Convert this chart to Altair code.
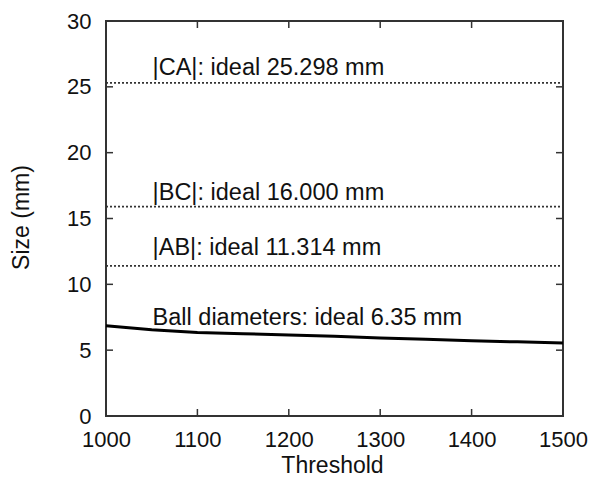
import altair as alt
import pandas as pd

# ---- data ----
threshold = [1000, 1050, 1100, 1150, 1200, 1250, 1300, 1350, 1400, 1450, 1500]
ball_diam = [6.85, 6.55, 6.35, 6.25, 6.15, 6.05, 5.92, 5.82, 5.72, 5.63, 5.55]

ref_names = ["|CA|", "|BC|", "|AB|"]
ref_values = [25.3, 15.9, 11.4]

label_texts = ["|CA|: ideal 25.298 mm", "|BC|: ideal 16.000 mm",
               "|AB|: ideal 11.314 mm", "Ball diameters: ideal 6.35 mm"]
label_x = [1051, 1051, 1051, 1051]
label_y = [25.9, 16.4, 12.2, 6.9]

x_ticks = [1000, 1100, 1200, 1300, 1400, 1500]
y_ticks = [0, 5, 10, 15, 20, 25, 30]

W, H = 457, 395
FONT = "Liberation Sans"

# ---- tables ----
ball_df = pd.DataFrame({"x": threshold, "y": ball_diam})
ref_df = pd.DataFrame([
    {"name": n, "x": xx, "y": v}
    for n, v in zip(ref_names, ref_values)
    for xx in (threshold[0], threshold[-1])
])
lab_df = pd.DataFrame({"x": label_x, "y": label_y, "text": label_texts})
xt_df = pd.DataFrame({"x": x_ticks})
yt_df = pd.DataFrame({"y": y_ticks})

X = alt.X("x:Q", scale=alt.Scale(domain=[1000, 1500], nice=False, zero=False),
          axis=alt.Axis(title="Threshold", values=x_ticks, format="d",
                        ticks=False, tickSize=0, domain=False, grid=False,
                        labelFlush=False, labelOverlap=False,
                        labelFont=FONT, labelFontSize=22, labelColor="#111",
                        labelPadding=13, labelBaseline="top",
                        titleFont=FONT, titleFontSize=23, titleFontWeight="normal",
                        titleColor="#111", titleX=226, titleY=56,
                        titleBaseline="alphabetic", titleAnchor="middle"))
Y = alt.Y("y:Q", scale=alt.Scale(domain=[0, 30], nice=False),
          axis=alt.Axis(title="Size (mm)", values=y_ticks,
                        ticks=False, tickSize=0, domain=False, grid=False,
                        labelFlush=False, labelOverlap=False,
                        labelFont=FONT, labelFontSize=22, labelColor="#111",
                        labelPadding=15,
                        titleFont=FONT, titleFontSize=23, titleFontWeight="normal",
                        titleColor="#111", titleX=-78, titleY=196,
                        titleAngle=-90, titleBaseline="alphabetic",
                        titleAnchor="middle"))

ref_lines = alt.Chart(ref_df).mark_line(
    color="#333", strokeWidth=1.6, strokeDash=[2, 2]
).encode(x=X, y=Y, detail="name:N")

ball_line = alt.Chart(ball_df).mark_line(
    color="#000", strokeWidth=3
).encode(x=X, y=Y)

labels = alt.Chart(lab_df).mark_text(
    align="left", baseline="alphabetic", font=FONT, fontSize=23.5, color="#111"
).encode(x=X, y=Y, text="text:N")

tick_color = "#333"
bottom_ticks = alt.Chart(xt_df).mark_rule(color=tick_color, strokeWidth=1.5).encode(
    x=X, y=alt.value(H), y2=alt.value(H - 7))
top_ticks = alt.Chart(xt_df).mark_rule(color=tick_color, strokeWidth=1.5).encode(
    x=X, y=alt.value(0), y2=alt.value(7))
left_ticks = alt.Chart(yt_df).mark_rule(color=tick_color, strokeWidth=1.5).encode(
    y=Y, x=alt.value(0), x2=alt.value(7))
right_ticks = alt.Chart(yt_df).mark_rule(color=tick_color, strokeWidth=1.5).encode(
    y=Y, x=alt.value(W), x2=alt.value(W - 7))

chart = alt.layer(
    ref_lines, ball_line, labels, bottom_ticks, top_ticks, left_ticks, right_ticks
).properties(
    width=W, height=H,
    autosize=alt.AutoSizeParams(type="none"),
    padding={"left": 98, "top": 13, "right": 29, "bottom": 63},
    view=alt.ViewBackground(stroke="#333", strokeWidth=2),
).configure_view(
    stroke="#333", strokeWidth=2
).configure(background="white")

chart.save("out.html", embed_options={"renderer": "svg", "actions": False})
